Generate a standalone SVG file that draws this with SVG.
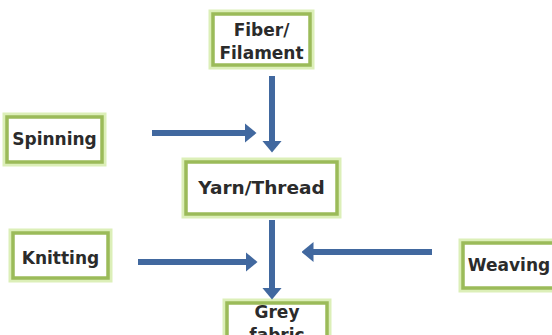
<svg xmlns="http://www.w3.org/2000/svg" width="552" height="335" viewBox="0 0 552 335">
<style>
.glow{fill:none;stroke:#dcefb8;stroke-width:9}
.box{fill:#ffffff;stroke:#9bbb59;stroke-width:3.5}
.t{font-family:"DejaVu Sans",Verdana,sans-serif;font-weight:bold;font-size:17px;fill:#2b2b2b;text-anchor:middle}
.c{stroke:#41689f;stroke-width:6;fill:none}
</style>
<defs>
<marker id="ah" viewBox="0 0 12 20" markerWidth="12" markerHeight="20" refX="0.5" refY="10" orient="auto" markerUnits="userSpaceOnUse">
<path d="M0,0 L12,10 L0,20 z" fill="#41689f"/>
</marker>
</defs>
<rect width="552" height="335" fill="#ffffff"/>
<g id="fiber">
<rect class="glow" x="213" y="14" width="97" height="51"/>
<rect class="box" x="213" y="14" width="97" height="51"/>
<text class="t" x="261.5" y="36">Fiber/</text>
<text class="t" x="261.5" y="59">Filament</text>
</g>
<g id="spinning">
<rect class="glow" x="7" y="117" width="95" height="45"/>
<rect class="box" x="7" y="117" width="95" height="45"/>
<text class="t" x="54.5" y="145">Spinning</text>
</g>
<g id="yarn">
<rect class="glow" x="186" y="162" width="151" height="52"/>
<rect class="box" x="186" y="162" width="151" height="52"/>
<text class="t" x="261.5" y="194" style="font-size:18.5px">Yarn/Thread</text>
</g>
<g id="knitting">
<rect class="glow" x="13" y="233" width="95" height="45"/>
<rect class="box" x="13" y="233" width="95" height="45"/>
<text class="t" x="60.5" y="264">Knitting</text>
</g>
<g id="weaving">
<rect class="glow" x="463" y="243" width="100" height="45"/>
<rect class="box" x="463" y="243" width="100" height="45"/>
<text class="t" x="509" y="271">Weaving</text>
</g>
<g id="grey">
<rect class="glow" x="227" y="303" width="100" height="50"/>
<rect class="box" x="227" y="303" width="100" height="50"/>
<text class="t" x="277" y="318">Grey</text>
<text class="t" x="277" y="341">fabric</text>
</g>
<g id="connectors">
<line class="c" x1="272" y1="76" x2="272" y2="141" marker-end="url(#ah)"/>
<line class="c" x1="152" y1="133" x2="245" y2="133" marker-end="url(#ah)"/>
<line class="c" x1="272" y1="220" x2="272" y2="288" marker-end="url(#ah)"/>
<line class="c" x1="138" y1="262" x2="246" y2="262" marker-end="url(#ah)"/>
<line class="c" x1="432" y1="252" x2="313" y2="252" marker-end="url(#ah)"/>
</g>
</svg>
